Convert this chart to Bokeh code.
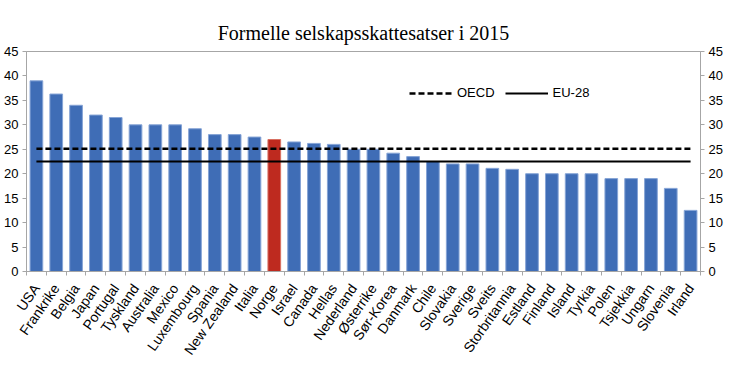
from bokeh.plotting import figure
from bokeh.models import (Range1d, LinearAxis, FixedTicker, Legend, LegendItem,
                          ColumnDataSource)
from bokeh.embed import file_html
from bokeh.resources import INLINE
import math

countries = ["USA", "Frankrike", "Belgia", "Japan", "Portugal", "Tyskland",
             "Australia", "Mexico", "Luxembourg", "Spania", "New Zealand",
             "Italia", "Norge", "Israel", "Canada", "Hellas", "Nederland",
             "Østerrike", "Sør-Korea", "Danmark", "Chile", "Slovakia",
             "Sverige", "Sveits", "Storbritannia", "Estland", "Finland",
             "Island", "Tyrkia", "Polen", "Tsjekkia", "Ungarn", "Slovenia",
             "Irland"]
rates = [39.0, 36.3, 34.0, 32.0, 31.5, 30.0, 30.0, 30.0, 29.2, 28.0, 28.0,
         27.5, 27.0, 26.5, 26.2, 26.0, 25.0, 25.0, 24.2, 23.5, 22.5, 22.0,
         22.0, 21.1, 20.9, 20.0, 20.0, 20.0, 20.0, 19.0, 19.0, 19.0, 17.0,
         12.5]
highlight = "Norge"
oecd_avg = 25.1
eu28_avg = 22.5
y_ticks = [0, 5, 10, 15, 20, 25, 30, 35, 40, 45]
title_text = "Formelle selskapsskattesatser i 2015"

BLUE = "#3F6DB6"
BLUE_EDGE = "#86A4D6"
RED = "#BE2A1F"
RED_EDGE = "#D87062"
AXIS = "#A6A6A6"
FONT = "Liberation Sans"

xs = list(range(len(countries)))
fills = [RED if c == highlight else BLUE for c in countries]
edges = [RED_EDGE if c == highlight else BLUE_EDGE for c in countries]
src = ColumnDataSource(dict(x=xs, top=rates, fill=fills, edge=edges))

p = figure(width=730, height=367, output_backend="svg", toolbar_location=None,
           x_range=Range1d(-0.5, len(countries) - 0.5),
           y_range=Range1d(0, 45),
           min_border_left=26, min_border_right=30,
           min_border_top=51, min_border_bottom=96)

xa = p.below[0]
ya = p.left[0]

p.title.text = title_text
p.title.align = "center"
p.title.text_font = "Liberation Serif"
p.title.text_font_size = "20px"
p.title.text_font_style = "normal"
p.title.text_color = "#000000"
p.title.standoff = 16

# empty spacer axis above the frame: lifts the title away from the plot
spacer = LinearAxis(ticker=FixedTicker(ticks=[]), axis_line_color=None,
                    major_tick_line_color=None, minor_tick_line_color=None,
                    major_tick_out=11, major_tick_in=0, minor_tick_out=0,
                    minor_tick_in=0, major_label_standoff=0,
                    major_label_text_font_size="1px")
p.add_layout(spacer, "above")

p.vbar(x="x", top="top", width=0.64, bottom=0, source=src,
       fill_color="fill", line_color="edge", line_width=1)

oecd_r = p.line(x=[xs[0], xs[-1]], y=[oecd_avg, oecd_avg], line_color="black",
                line_width=2.5, line_dash="6 3")
eu_r = p.line(x=[xs[0], xs[-1]], y=[eu28_avg, eu28_avg], line_color="black",
              line_width=2.2)

p.xgrid.visible = False
p.ygrid.visible = False
p.outline_line_color = AXIS
p.outline_line_width = 1

# x axis: labels at centres, small ticks at category boundaries
xa.ticker = FixedTicker(ticks=xs, minor_ticks=[i - 0.5 for i in xs] + [xs[-1] + 0.5])
xa.major_label_overrides = {i: c for i, c in zip(xs, countries)}
xa.major_label_orientation = math.radians(55)
xa.major_tick_line_color = None
xa.major_tick_out = 2
xa.major_tick_in = 0
xa.minor_tick_out = 4
xa.minor_tick_in = 0
xa.minor_tick_line_color = AXIS
xa.axis_line_color = AXIS
xa.major_label_standoff = 10
xa.major_label_text_font = FONT
xa.major_label_text_font_size = "14px"
xa.major_label_text_color = "#000000"

ya.ticker = FixedTicker(ticks=y_ticks)
ya.minor_tick_line_color = None

yr = LinearAxis(ticker=FixedTicker(ticks=y_ticks))
yr.minor_tick_line_color = None
p.add_layout(yr, "right")

for ax in (ya, yr):
    ax.axis_line_color = AXIS
    ax.major_tick_line_color = AXIS
    ax.major_tick_out = 4
    ax.major_tick_in = 0
    ax.major_label_standoff = 4
    ax.major_label_text_font = FONT
    ax.major_label_text_font_size = "13px"
    ax.major_label_text_color = "#000000"

legend = Legend(items=[LegendItem(label="OECD", renderers=[oecd_r]),
                       LegendItem(label="EU-28", renderers=[eu_r])],
                orientation="horizontal", location=(383, 171),
                glyph_width=43, glyph_height=14, label_standoff=5, spacing=10,
                padding=0, margin=0, border_line_color=None,
                background_fill_alpha=0,
                label_text_font=FONT, label_text_font_size="13px",
                label_text_color="#000000")
p.add_layout(legend)

open("out.html", "w").write(file_html(p, INLINE))
